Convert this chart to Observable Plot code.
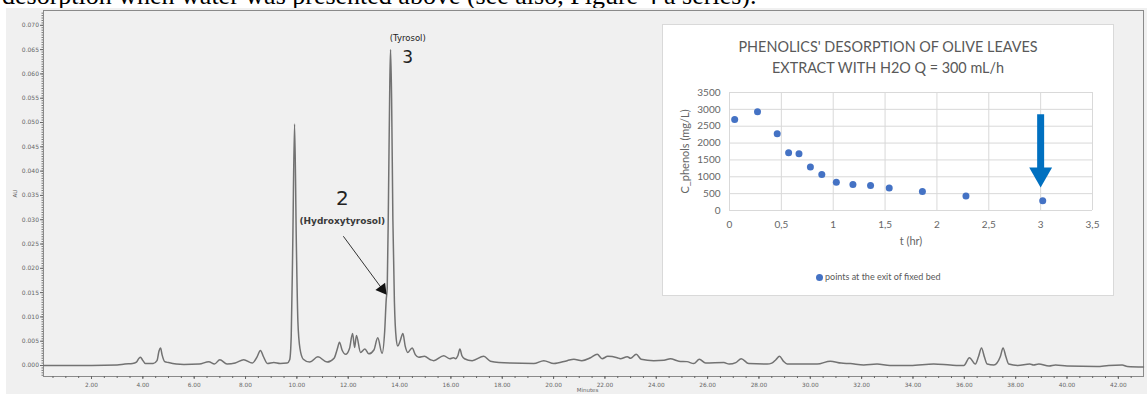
<!DOCTYPE html>
<html>
<head>
<meta charset="utf-8">
<script src="https://cdn.jsdelivr.net/npm/d3@7"></script>
<script src="https://cdn.jsdelivr.net/npm/@observablehq/plot@0.6"></script>
<style>
  html, body { margin: 0; padding: 0; background: #fff; }
  #page { position: relative; width: 1147px; height: 394px; overflow: hidden; }
  #toptext { position: absolute; left: 2px; top: -17px; font: 26px "Liberation Serif", serif; line-height: 26px; white-space: nowrap; color: #000; }
  #panel { position: absolute; left: 6px; top: 8px; width: 1141px; height: 386px; background: #f0f0f0; }
  #main { position: absolute; left: 0; top: 0; }
  #inset { position: absolute; left: 663px; top: 25px; width: 450px; height: 270px; background: #fff; outline: 1px solid #d9d9d9; }
  #inset-title { position: absolute; left: 0; top: 11px; width: 450px; text-align: center; font: 14.4px Lato, sans-serif; line-height: 21px; color: #595959; }
  #inset-plot { position: absolute; left: 0; top: 0; }
  #inset-legend { position: absolute; left: 153px; top: 245px; font: 9px Lato, sans-serif; line-height: 13px; color: #595959; white-space: nowrap; }
  #inset-legend span.sw { display: inline-block; width: 7px; height: 7px; border-radius: 50%; background: #4472c4; margin-right: 2px; vertical-align: -0.5px; }
</style>
</head>
<body>
<div id="page">
  <div id="toptext">desorption when water was presented above (see also, Figure 4 a series).</div>
  <div id="panel"></div>
  <div id="main"></div>
  <div id="inset">
    <div id="inset-plot"></div>
    <div id="inset-title">PHENOLICS' DESORPTION OF OLIVE LEAVES<br>EXTRACT WITH H2O Q = 300 mL/h</div>
    <div id="inset-legend"><span class="sw"></span>points at the exit of fixed bed</div>
  </div>
</div>
<script>
// ---- Chromatogram trace (retention time in minutes, absorbance in AU) ----
const traceMinutes = [0.13, 1, 2, 3, 3.3, 3.6, 3.75, 3.85, 3.91, 3.98, 4.1, 4.4, 4.55, 4.63, 4.69, 4.75, 4.85, 5.0, 5.3, 5.6, 6.2, 6.57, 6.79, 7.0, 7.28, 7.6, 7.93, 8.26, 8.45, 8.58, 8.7, 8.86, 9.1, 9.35, 9.62, 9.72, 9.78, 9.84, 9.91, 9.98, 10.04, 10.12, 10.25, 10.5, 10.82, 11.18, 11.45, 11.58, 11.66, 11.76, 11.9, 12.05, 12.17, 12.25, 12.32, 12.48, 12.65, 12.8, 13.0, 13.15, 13.32, 13.42, 13.48, 13.52, 13.57, 13.62, 13.65, 13.69, 13.74, 13.8, 13.87, 13.93, 14.02, 14.13, 14.22, 14.32, 14.49, 14.62, 14.75, 14.97, 15.2, 15.33, 15.72, 15.96, 16.1, 16.18, 16.27, 16.35, 16.43, 16.53, 16.83, 17.28, 17.54, 18.32, 19.23, 19.62, 20.01, 20.53, 20.79, 21.1, 21.44, 21.7, 21.89, 22.11, 22.48, 22.6, 22.87, 23.0, 23.22, 23.41, 23.9, 24.3, 24.55, 24.88, 25.2, 25.46, 25.68, 25.92, 26.63, 26.84, 27.1, 27.31, 27.6, 28.32, 28.5, 28.66, 28.8, 28.95, 29.1, 30.27, 30.78, 31.2, 31.56, 32.08, 32.6, 33.1, 33.9, 34.81, 35.45, 35.98, 36.2, 36.43, 36.55, 36.67, 36.78, 36.89, 37.15, 37.4, 37.51, 37.62, 37.73, 38.08, 38.55, 38.7, 38.9, 39.3, 39.55, 40.0, 41.17, 41.62, 42.15, 42.35, 42.98];
const traceAU = [0, 0, 0, 0.0001, 0.0003, 0.0004, 0.0007, 0.0015, 0.0017, 0.0012, 0.0004, 0.0004, 0.0010, 0.0030, 0.0036, 0.0022, 0.0008, 0.0006, 0.0003, 0.0002, 0.0003, 0.0008, 0.0003, 0.0012, 0.0003, 0.0005, 0.0012, 0.0005, 0.0018, 0.0031, 0.0018, 0.0004, 0.0006, 0.0004, 0.0005, 0.0012, 0.0060, 0.0250, 0.0497, 0.0250, 0.0090, 0.0035, 0.0013, 0.0007, 0.0018, 0.0007, 0.0015, 0.0035, 0.0048, 0.0032, 0.0023, 0.0035, 0.0066, 0.0037, 0.0062, 0.0027, 0.0034, 0.0024, 0.0032, 0.0057, 0.0025, 0.0070, 0.0135, 0.0160, 0.0350, 0.0580, 0.0650, 0.0550, 0.0300, 0.0130, 0.0055, 0.0040, 0.0050, 0.0066, 0.0040, 0.0027, 0.0036, 0.0022, 0.0017, 0.0019, 0.0012, 0.0010, 0.0020, 0.0014, 0.0016, 0.0014, 0.0020, 0.0034, 0.0020, 0.0014, 0.0010, 0.0019, 0.0009, 0.0005, 0.0004, 0.0010, 0.0004, 0.0010, 0.0013, 0.0010, 0.0016, 0.0023, 0.0014, 0.0019, 0.0016, 0.0014, 0.0018, 0.0015, 0.0023, 0.0013, 0.0010, 0.0011, 0.0014, 0.0009, 0.0008, 0.0004, 0.0013, 0.0005, 0.0006, 0.0003, 0.0006, 0.0014, 0.0004, 0.0003, 0.0005, 0.0012, 0.0019, 0.0009, 0.0003, 0.0003, 0.0009, 0.0005, 0.0004, 0.0001, 0.0003, 0, 0, 0.0003, 0.0001, 0, 0.0016, 0.0003, 0.0018, 0.0036, 0.0018, 0.0003, 0.0001, 0.0018, 0.0036, 0.0018, 0.0003, 0, 0.0003, 0.0001, 0.0003, -0.0001, 0.0001, -0.0001, -0.0002, 0, 0.0001, -0.0002, -0.0003];

const auTicks = d3.range(0, 0.0701, 0.005);
const auMinorTicks = d3.range(-0.002, 0.073, 0.0005);
const minuteTicks = d3.range(2, 43, 2);
const minuteMinorTicks = d3.range(0.5, 43, 0.5);

// Peak annotations (data coordinates: minutes, AU)
const peakLabels = [
  {label: "(Tyrosol)", t: 14.32, au: 0.0673},
  {label: "3", t: 14.32, au: 0.0633},
  {label: "2", t: 11.77, au: 0.0343},
  {label: "(Hydroxytyrosol)", t: 11.77, au: 0.0298}
];
const peakArrow = {t1: 11.81, au1: 0.0266, t2: 13.33, au2: 0.0157};

// ---- Inset: phenolics desorption ----
const desorptionHours = [0.05, 0.27, 0.46, 0.57, 0.67, 0.78, 0.89, 1.03, 1.19, 1.36, 1.54, 1.86, 2.28, 3.02];
const phenolsMgL = [2700, 2930, 2280, 1710, 1680, 1290, 1070, 840, 770, 740, 670, 560, 430, 290];
const hourTicks = [0, 0.5, 1, 1.5, 2, 2.5, 3, 3.5];
const concTicks = [0, 500, 1000, 1500, 2000, 2500, 3000, 3500];
const blueArrow = {t: 3, from: 2840, to: 1077};

const trace = traceMinutes.map((t, i) => ({t, au: traceAU[i]}));
const desorption = desorptionHours.map((t, i) => ({t, c: phenolsMgL[i]}));

const mainChart = Plot.plot({
  width: 1147,
  height: 394,
  marginLeft: 43,
  marginRight: 4,
  marginTop: 10,
  marginBottom: 18,
  style: {background: "transparent", fontFamily: "DejaVu Sans, sans-serif", overflow: "visible"},
  x: {domain: [0.13, 42.98]},
  y: {domain: [-0.00226, 0.07305]},
  marks: [
    Plot.frame({stroke: "#8a8a8a", strokeWidth: 1}),
    Plot.axisY({ticks: auMinorTicks.filter(v => v <= 0.073), tickSize: 1.5, tickFormat: () => "", label: null, stroke: "#777"}),
    Plot.axisY({ticks: auTicks, tickSize: 3, tickPadding: 1.5, tickFormat: d3.format(".3f"), fontSize: 6, fill: "#666", stroke: "#666", label: null}),
    Plot.axisX({ticks: minuteMinorTicks, tickSize: 2, tickFormat: () => "", label: null, stroke: "#666"}),
    Plot.axisX({ticks: minuteTicks, tickSize: 3, tickPadding: 3.5, tickFormat: d3.format(".2f"), fontSize: 5.8, fill: "#666", stroke: "#666", label: null}),
    Plot.text(["Minutes"], {text: d => d, frameAnchor: "bottom", dy: 15, dx: -6, fontSize: 5.5, fill: "#666"}),
    Plot.text(["AU"], {text: d => d, frameAnchor: "left", dx: -28, rotate: -90, textAnchor: "middle", fontSize: 5.5, fill: "#666"}),
    Plot.line(trace, {x: "t", y: "au", curve: "monotone-x", stroke: "#727272", strokeWidth: 1.5}),
    Plot.text([peakLabels[0]], {x: "t", y: "au", text: "label", fontSize: 8.5, fill: "#222"}),
    Plot.text([peakLabels[1]], {x: "t", y: "au", text: "label", fontSize: 17, fill: "#222"}),
    Plot.text([peakLabels[2]], {x: "t", y: "au", text: "label", fontSize: 20, fill: "#222"}),
    Plot.text([peakLabels[3]], {x: "t", y: "au", text: "label", fontSize: 9, fontWeight: "bold", fill: "#3a3a3a"}),
    Plot.link([peakArrow], {x1: "t1", y1: "au1", x2: "t2", y2: "au2", stroke: "#333", strokeWidth: 1}),
    Plot.dot([peakArrow], {x: "t2", y: "au2", symbol: "triangle", r: 4.5, rotate: 143, fill: "#111", stroke: "none"})
  ]
});
document.getElementById("main").append(mainChart);

const commaFmt = d => String(d).replace(".", ",");
const insetChart = Plot.plot({
  width: 450,
  height: 270,
  marginLeft: 66,
  marginRight: 21,
  marginTop: 67,
  marginBottom: 85,
  style: {background: "transparent", fontFamily: "Lato, sans-serif", overflow: "visible"},
  x: {domain: [0, 3.5]},
  y: {domain: [0, 3500]},
  marks: [
    Plot.gridX({ticks: hourTicks, stroke: "#d9d9d9", strokeOpacity: 1}),
    Plot.gridY({ticks: concTicks, stroke: "#d9d9d9", strokeOpacity: 1}),
    Plot.axisX({ticks: hourTicks, tickSize: 0, tickPadding: 10, tickFormat: commaFmt, fontSize: 10, fill: "#666", label: null}),
    Plot.axisY({ticks: concTicks, tickSize: 0, tickPadding: 9, tickFormat: d => String(d), fontSize: 10, fill: "#666", label: null}),
    Plot.text(["t (hr)"], {text: d => d, frameAnchor: "bottom", dy: 34, fontSize: 11, fill: "#666"}),
    Plot.text(["C_phenols (mg/L)"], {text: d => d, frameAnchor: "left", dx: -44, rotate: -90, textAnchor: "middle", fontSize: 11, fill: "#666"}),
    Plot.dot(desorption, {x: "t", y: "c", r: 3.5, fill: "#4472c4", stroke: "none"}),
    Plot.ruleX([blueArrow], {x: "t", y1: "from", y2: "to", stroke: "#0070c0", strokeWidth: 7}),
    Plot.dot([blueArrow], {x: "t", y: "to", symbol: "triangle", r: 8.5, rotate: 180, fill: "#0070c0", stroke: "none"})
  ]
});
document.getElementById("inset-plot").append(insetChart);
</script>
</body>
</html>
